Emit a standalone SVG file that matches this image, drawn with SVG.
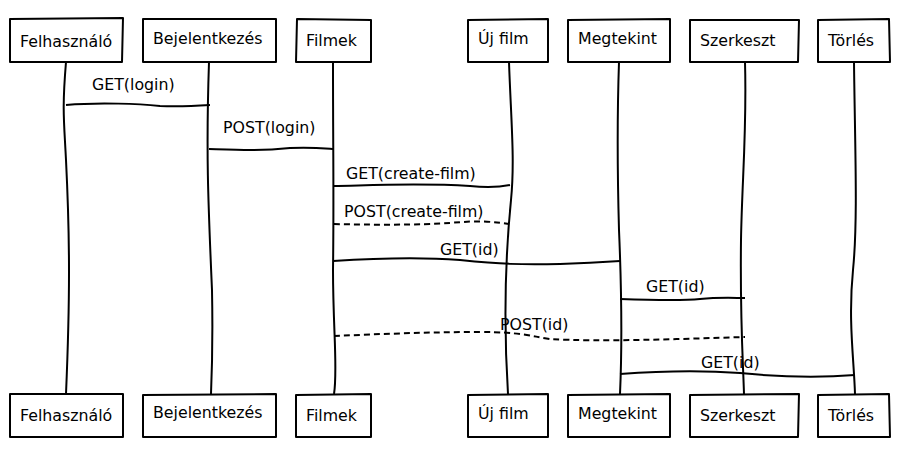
<svg xmlns="http://www.w3.org/2000/svg" width="919" height="456" viewBox="0 0 919 456">
<style>
.box{fill:#fff;stroke:#000;stroke-width:2;stroke-linejoin:round}
.life{fill:none;stroke:#000;stroke-width:2}
.msg{fill:none;stroke:#000;stroke-width:2}
.dash{stroke-dasharray:6 4}
text{font-family:"DejaVu Sans",sans-serif;font-size:15.8px;fill:#000}
</style>
<rect width="919" height="456" fill="#fff"/>
<g id="lifelines">
<path class="life" d="M66 62 C62 110 64 120 66 160 C70 240 70 300 66 394"/>
<path class="life" d="M209 62 C206 150 208 200 212 290 C213 340 212 370 211 394"/>
<path class="life" d="M333 62 C333 150 334 200 333 270 C333 330 338 370 334 394"/>
<path class="life" d="M509 62 C511 120 515 160 511 200 C505 260 504 330 508 394"/>
<path class="life" d="M619 62 C617 120 617 160 619 230 C622 300 622 350 620 394"/>
<path class="life" d="M745 62 C747 130 742 180 741 240 C740 320 743 360 744 394"/>
<path class="life" d="M854 62 C855 150 858 220 853 270 C848 320 854 360 855 394"/>
</g>
<g id="node-felhasznalo-top"><path class="box" d="M10 19 L123 18 L122 62 L10 62 Z"/><text x="20" y="47">Felhasználó</text></g>
<g id="node-bejelentkezes-top"><path class="box" d="M143 19 L276 19 L276 62 L143 62 Z"/><text x="153" y="44">Bejelentkezés</text></g>
<g id="node-filmek-top"><path class="box" d="M297 19 L371 20 L371 62 L296 62 Z"/><text x="306" y="46">Filmek</text></g>
<g id="node-ujfilm-top"><path class="box" d="M468 20 L548 19 L548 62 L468 62 Z"/><text x="478" y="44">Új film</text></g>
<g id="node-megtekint-top"><path class="box" d="M568 20 L670 19 L670 62 L568 62 Z"/><text x="578" y="44">Megtekint</text></g>
<g id="node-szerkeszt-top"><path class="box" d="M690 20 L799 20 L798 62 L690 62 Z"/><text x="700" y="46">Szerkeszt</text></g>
<g id="node-torles-top"><path class="box" d="M818 20 L889 19 L890 62 L818 62 Z"/><text x="828" y="46">Törlés</text></g>
<g id="node-felhasznalo-bottom"><path class="box" d="M10 394 L123 394 L123 437 L10 437 Z"/><text x="20" y="421">Felhasználó</text></g>
<g id="node-bejelentkezes-bottom"><path class="box" d="M143 395 L276 394 L276 437 L143 437 Z"/><text x="153" y="418">Bejelentkezés</text></g>
<g id="node-filmek-bottom"><path class="box" d="M296 395 L371 394 L371 437 L296 437 Z"/><text x="306" y="421">Filmek</text></g>
<g id="node-ujfilm-bottom"><path class="box" d="M468 395 L548 394 L548 437 L468 437 Z"/><text x="478" y="419">Új film</text></g>
<g id="node-megtekint-bottom"><path class="box" d="M568 395 L670 394 L670 437 L568 437 Z"/><text x="578" y="419">Megtekint</text></g>
<g id="node-szerkeszt-bottom"><path class="box" d="M690 395 L799 394 L798 437 L690 437 Z"/><text x="700" y="421">Szerkeszt</text></g>
<g id="node-torles-bottom"><path class="box" d="M818 395 L889 394 L890 437 L818 437 Z"/><text x="828" y="421">Törlés</text></g>
<g id="connectors">
<path class="msg" d="M66 105 C100 102 140 104 160 106 C180 107 195 106 210 105"/>
<path class="msg" d="M209 149 C240 150 260 151 290 148 C310 147 320 148 334 149"/>
<path class="msg" d="M333 186 C380 185 420 183 470 186 C490 188 500 187 510 185"/>
<path class="msg dash" d="M334 224 C370 225 420 225 450 223 C480 220 495 222 509 224"/>
<path class="msg" d="M333 261 C380 258 420 257 460 260 C500 264 520 265 560 264 C590 263 605 262 620 261"/>
<path class="msg" d="M620 299 C650 300 680 301 700 299 C720 297 735 298 745 298"/>
<path class="msg dash" d="M334 336 C380 334 430 332 480 332 C520 332 530 336 550 339 C600 342 680 339 745 337"/>
<path class="msg" d="M620 374 C660 371 700 370 740 373 C790 378 830 377 855 375"/>
</g>
<g id="labels">
<text x="92" y="90">GET(login)</text>
<text x="223" y="133">POST(login)</text>
<text x="346" y="179">GET(create-film)</text>
<text x="344" y="217">POST(create-film)</text>
<text x="440" y="255">GET(id)</text>
<text x="646" y="292">GET(id)</text>
<text x="500" y="330">POST(id)</text>
<text x="701" y="368">GET(id)</text>
</g>
</svg>
